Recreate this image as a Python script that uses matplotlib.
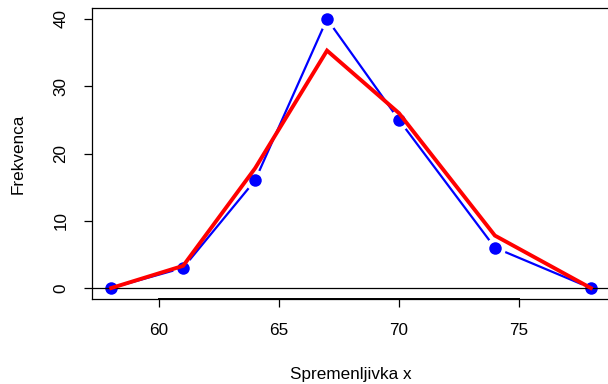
import numpy as np
import matplotlib.pyplot as plt

plt.rcParams['font.family'] = ['Liberation Sans', 'DejaVu Sans']

x = [58, 61, 64, 67, 70, 74, 78]
freq = [0, 3, 16, 40, 25, 6, 0] #observed frequencies (blue)
fitted = [0, 3.3, 17.8, 35.3, 26.0, 7.8, 0] #expected frequencies (red)

xticks = [60, 65, 70, 75]
yticks = [0, 10, 20, 30, 40]

fig = plt.figure(figsize=(6.08, 3.84), dpi=100)
ax = fig.add_axes([92/608, 85.2/384, 518/608, 290.6/384])

ax.set_xlim(57.2, 78.8)
ax.set_ylim(-1.6, 41.6)

# type="b" look: line, white gaps around points, then the points
ax.plot(x, freq, color='blue', lw=1.6, zorder=1)
ax.plot(x, freq, 'o', color='white', ms=15, mew=0, zorder=1.2)
ax.plot(x, freq, 'o', color='blue', ms=9, mew=0, zorder=1.4)

ax.axhline(0, color='black', lw=0.9, zorder=1.6)

ax.plot(x, fitted, color='red', lw=2.8, solid_joinstyle='miter', zorder=1.8)

for s in ax.spines.values():
    s.set_linewidth(0.9)
    s.set_zorder(3)

ax.set_xticks(xticks)
ax.set_xticklabels([str(t) for t in xticks], fontsize=12.3)
ax.set_yticks(yticks)
ax.set_yticklabels([str(t) for t in yticks], fontsize=12.3, rotation=90, va='center')
ax.tick_params(axis='both', length=6, width=0.9, color='black')
ax.tick_params(axis='x', pad=11.5)
ax.tick_params(axis='y', pad=11)
# R style axis line from first to last tick
ax.plot([xticks[0], xticks[-1]], [-1.6, -1.6], color='black', lw=1.4, clip_on=False, zorder=3)

ax.set_xlabel('Spremenljivka x', fontsize=12.3, labelpad=21)
ax.set_ylabel('Frekvenca', fontsize=12.3, labelpad=20)

fig.savefig('out.png', dpi=100)
